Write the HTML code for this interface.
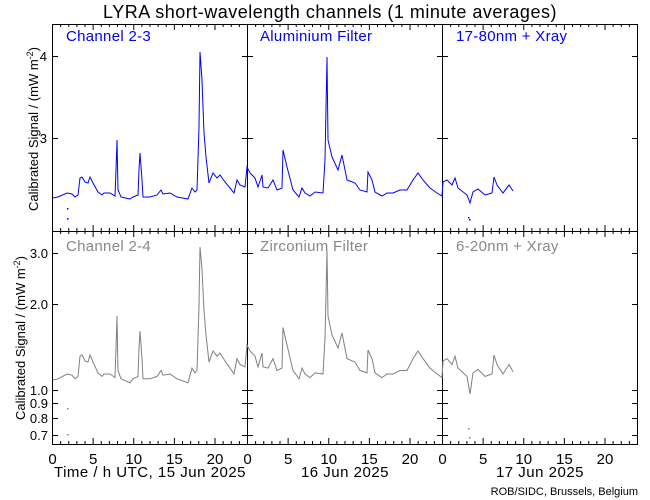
<!DOCTYPE html>
<html><head><meta charset="utf-8"><style>
body{margin:0;background:#fff;}
svg{display:block;font-family:"Liberation Sans",sans-serif;}
</style></head><body>
<svg id="s" width="650" height="500" viewBox="0 0 650 500" xmlns="http://www.w3.org/2000/svg">
<rect width="650" height="500" fill="#fff"/>
<text x="330" y="18" font-size="18" text-anchor="middle" letter-spacing="0.5">LYRA short-wavelength channels (1 minute averages)</text>
<g font-size="15" letter-spacing="0.3">
<text x="66" y="41" fill="#0000ff">Channel 2-3</text>
<text x="260" y="41" fill="#0000ff">Aluminium Filter</text>
<text x="456" y="41" fill="#0000ff">17-80nm + Xray</text>
<text x="66" y="251" fill="#888">Channel 2-4</text>
<text x="260" y="251" fill="#888">Zirconium Filter</text>
<text x="456" y="251" fill="#888">6-20nm + Xray</text>
</g>
<text transform="translate(38,129) rotate(-90)" font-size="13" text-anchor="middle">Calibrated Signal / (mW m<tspan dy="-5" font-size="9">-2</tspan><tspan dy="5">)</tspan></text>
<text transform="translate(25,338) rotate(-90)" font-size="13" text-anchor="middle">Calibrated Signal / (mW m<tspan dy="-5" font-size="9">-2</tspan><tspan dy="5">)</tspan></text>
<g font-size="13" text-anchor="end">
<text x="47" y="61">4</text><text x="47" y="143">3</text>
<text x="48" y="258">3.0</text><text x="48" y="309">2.0</text>
<text x="48" y="395">1.0</text><text x="48" y="408">0.9</text><text x="48" y="423">0.8</text><text x="48" y="440">0.7</text>
</g>
<g font-size="15" text-anchor="middle" id="xl"></g>
<text x="150" y="477" font-size="15" text-anchor="middle" letter-spacing="0.5">Time / h UTC, 15 Jun 2025</text>
<text x="345" y="477" font-size="15" text-anchor="middle" letter-spacing="0.5">16 Jun 2025</text>
<text x="540" y="477" font-size="15" text-anchor="middle" letter-spacing="0.5">17 Jun 2025</text>
<text x="638" y="495" font-size="11" text-anchor="end">ROB/SIDC, Brussels, Belgium</text>
<g id="ax" stroke="#000" stroke-width="1" fill="none"></g>
<g id="dt"></g>
</svg>
<script>
var NS="http://www.w3.org/2000/svg",ax=document.getElementById('ax'),dt=document.getElementById('dt'),xl=document.getElementById('xl');
function el(p,t,a){var e=document.createElementNS(NS,t);for(var k in a)e.setAttribute(k,a[k]);p.appendChild(e);return e;}
var L=52,R=637,T=24,M=231,B=444,pw=195;
el(ax,'rect',{x:L+.5,y:T+.5,width:R-L,height:B-T});
el(ax,'line',{x1:L,y1:M+.5,x2:R,y2:M+.5});
[247,442].forEach(function(x){el(ax,'line',{x1:x+.5,y1:T,x2:x+.5,y2:B});});
for(var c=0;c<3;c++){for(var h=0;h<=24;h++){var x=L+c*pw+h*pw/24+.5;if(x>R+1)continue;var len=(h%5==0)?6:3;
[T,B].forEach(function(y,i){el(ax,'line',{x1:x,y1:y,x2:x,y2:i?y-len:y+len});});
el(ax,'line',{x1:x,y1:M-len,x2:x,y2:M+len});
if(h%5==0&&h<24){var t=el(xl,'text',{x:x,y:464});t.textContent=h;}}}
var yt=[56,138,253,304,390,403,418,435];
[L,247,442,R].forEach(function(x,i){yt.forEach(function(y){var a=(i==0)?0:-5,b=(i==3)?0:5;el(ax,'line',{x1:x+a,y1:y+.5,x2:x+b+1,y2:y+.5});});});
var tdata=[[53,198],[58,197],[67,193],[72,194],[75,197],[78,195],[80,178],[82,177],[85,182],[88,183],[90,177],[93,183],[98,192],[102,195],[104,193],[110,193],[115,196],[116,170],[117,140],[118,190],[121,197],[130,199],[133,197],[138,195],[139,170],[140,153],[142,180],[143,197],[150,197],[157,195],[161,190],[163,194],[170,193],[177,197],[188,199],[192,188],[195,192],[197,190],[199,127],[200,52],[202,80],[204,133],[206,157],[209,183],[213,173],[217,178],[220,175],[225,182],[230,188],[234,193],[237,180],[240,185],[245,187],[247,167],[250,173],[255,178],[258,187],[262,175],[263,187],[268,188],[273,180],[277,190],[282,188],[283,150],[287,167],[293,190],[299,197],[302,188],[305,193],[310,196],[315,192],[323,193],[325,160],[327,57],[328,140],[332,157],[338,170],[342,155],[347,180],[355,183],[360,190],[367,192],[368,172],[372,180],[375,192],[382,196],[387,193],[393,193],[400,190],[407,190],[413,180],[418,173],[423,180],[430,188],[437,193],[442,196],[443,182],[447,180],[452,185],[455,178],[458,188],[467,195],[470,203],[473,192],[478,189],[485,195],[492,193],[494,177],[497,185],[503,193],[509,185],[513,191]];
var mp=[[52,247],[140,316],[153,331],[177,355],[198,380],[208,408],[220,437]];
function mapY(y){for(var i=0;i<mp.length-1;i++){var a=mp[i],b=mp[i+1];if(y<=b[0]||i==mp.length-2)return a[1]+(y-a[0])*(b[1]-a[1])/(b[0]-a[0]);}}
function pts(f){return tdata.map(function(p){return p[0]+','+f(p[1]).toFixed(1);}).join(' ');}
el(dt,'polyline',{points:pts(function(y){return y;}),fill:'none',stroke:'#0000ff','stroke-width':1});
el(dt,'polyline',{points:pts(mapY),fill:'none',stroke:'#808080','stroke-width':1});
[[67,208],[67,218],[468,217],[469,219]].forEach(function(p){el(dt,'rect',{x:p[0],y:p[1],width:1.5,height:1.5,fill:'#0000ff'});});
[[67,408],[67,434],[468,428],[469,437]].forEach(function(p){el(dt,'rect',{x:p[0],y:p[1],width:1.5,height:1.5,fill:'#808080'});});
</script>
</body></html>
